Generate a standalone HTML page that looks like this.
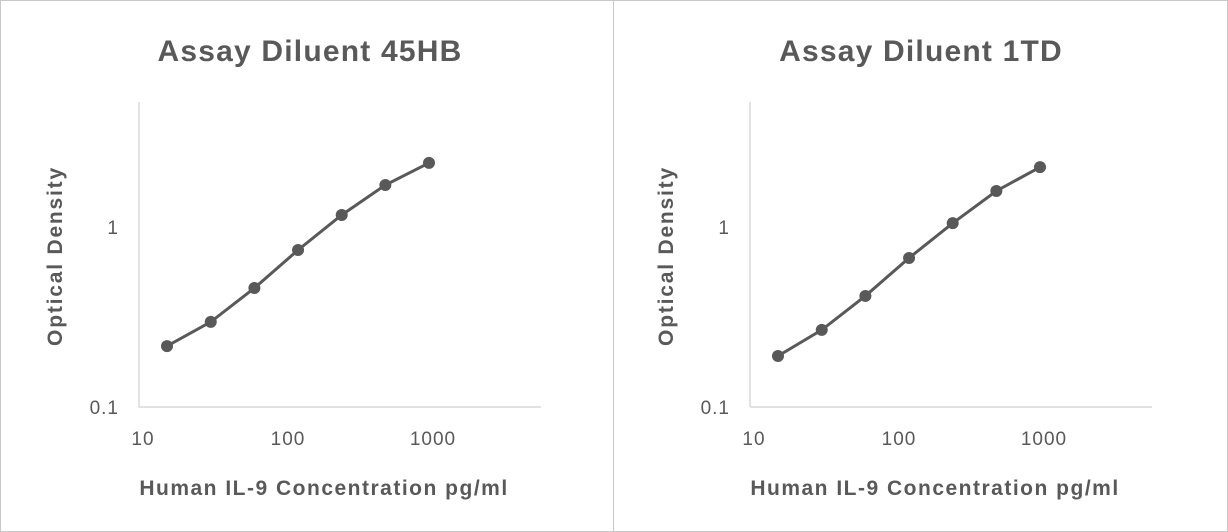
<!DOCTYPE html>
<html><head><meta charset="utf-8"><style>
body{margin:0;background:#fff;}
svg{display:block;font-family:"Liberation Sans",sans-serif;}
</style></head><body>
<svg width="1228" height="532">
<rect x="0.5" y="0.5" width="1227" height="531" fill="#fff" stroke="#c8c8c8"/>
<line x1="613.5" y1="0" x2="613.5" y2="532" stroke="#c8c8c8"/>
<g id="charts"></g>
</svg>
<script>
const concentrations=[15.6,31.25,62.5,125,250,500,1000];
const odLeft=[0.218,0.297,0.458,0.745,1.166,1.71,2.27];
const odRight=[0.192,0.268,0.414,0.673,1.05,1.585,2.15];
const titles=["Assay Diluent 45HB","Assay Diluent 1TD"];
const xTicks=[10,100,1000];
const xTickLabels=["10","100","1000"];
const yTicks=[0.1,1];
const yTickLabels=["0.1","1"];
const NS="http://www.w3.org/2000/svg";
const root=document.getElementById('charts');
function mk(tag,attrs,parent){const e=document.createElementNS(NS,tag);for(const k in attrs)e.setAttribute(k,attrs[k]);parent.appendChild(e);return e;}
function drawPanel(ox,title,vals,idx){
  const x0=ox+139,xEnd=ox+541,yBot=407,yTop=102;
  const xs=v=>x0+(Math.log10(v)-1)*145;
  const ys=v=>yBot-(Math.log10(v)+1)*180;
  const g=mk('g',{},root);
  
  
  const t=mk('text',{x:ox+310,y:61,'text-anchor':'middle','font-size':'30','font-weight':'bold',fill:'#595959','letter-spacing':'1.2'},g);
  t.textContent=title;
  
  
  const ya=mk('line',{x1:x0,y1:yTop,x2:x0,y2:yBot,stroke:'#d9d9d9','stroke-width':1.5},g);
  
  
  const xa=mk('line',{x1:x0,y1:yBot,x2:xEnd,y2:yBot,stroke:'#d9d9d9','stroke-width':1.5},g);
  
  
  xTicks.forEach((v,i)=>{const tl=mk('text',{x:xs(v)+4,y:445,'text-anchor':'middle','font-size':'19',fill:'#595959','letter-spacing':'1'},g);tl.textContent=xTickLabels[i];
    
    });
  yTicks.forEach((v,i)=>{const tl=mk('text',{x:x0-20,y:ys(v)+7,'text-anchor':'end','font-size':'19',fill:'#595959','letter-spacing':'1'},g);tl.textContent=yTickLabels[i];
    
    });
  const xt=mk('text',{x:ox+324,y:495,'text-anchor':'middle','font-size':'21','font-weight':'bold',fill:'#595959','letter-spacing':'1.5'},g);
  xt.textContent='Human IL-9 Concentration pg/ml';
  
  
  const yt=mk('text',{x:0,y:0,transform:`translate(${ox+62},256) rotate(-90)`,'text-anchor':'middle','font-size':'21','font-weight':'bold',fill:'#595959','letter-spacing':'1.8'},g);
  yt.textContent='Optical Density';
  
  
  const pts=concentrations.map((c,i)=>xs(c)+','+ys(vals[i])).join(' ');
  const pl=mk('polyline',{points:pts,fill:'none',stroke:'#595959','stroke-width':3},g);
  
  
  concentrations.forEach((c,i)=>{const p=mk('circle',{cx:xs(c),cy:ys(vals[i]),r:6,fill:'#595959'},g);
    
    });
}
drawPanel(0,titles[0],odLeft,0);
drawPanel(611,titles[1],odRight,1);
</script>
</body></html>
